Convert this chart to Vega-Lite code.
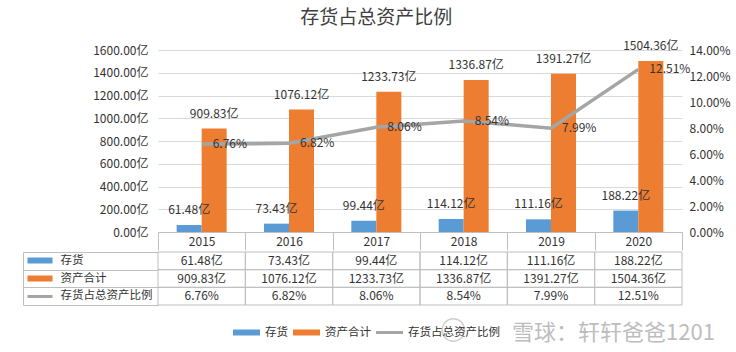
{
  "$schema": "https://vega.github.io/schema/vega-lite/v6.json",
  "padding": {"left": 22, "top": 8, "right": 0, "bottom": 0},
  "background": "white",
  "title": {"text": "存货占总资产比例", "fontSize": 19, "fontWeight": "normal", "color": "#404040", "anchor": "middle", "offset": 12, "font": "Noto Sans CJK SC"},
  "config": {"view": {"stroke": null}, "font": "Noto Sans CJK SC"},
  "data": {"values": [
    {"year": "2015", "series": "存货", "value": 61.48},
    {"year": "2015", "series": "资产合计", "value": 909.83},
    {"year": "2015", "series": "存货占总资产比例", "value": 6.76},
    {"year": "2016", "series": "存货", "value": 73.43},
    {"year": "2016", "series": "资产合计", "value": 1076.12},
    {"year": "2016", "series": "存货占总资产比例", "value": 6.82},
    {"year": "2017", "series": "存货", "value": 99.44},
    {"year": "2017", "series": "资产合计", "value": 1233.73},
    {"year": "2017", "series": "存货占总资产比例", "value": 8.06},
    {"year": "2018", "series": "存货", "value": 114.12},
    {"year": "2018", "series": "资产合计", "value": 1336.87},
    {"year": "2018", "series": "存货占总资产比例", "value": 8.54},
    {"year": "2019", "series": "存货", "value": 111.16},
    {"year": "2019", "series": "资产合计", "value": 1391.27},
    {"year": "2019", "series": "存货占总资产比例", "value": 7.99},
    {"year": "2020", "series": "存货", "value": 188.22},
    {"year": "2020", "series": "资产合计", "value": 1504.36},
    {"year": "2020", "series": "存货占总资产比例", "value": 12.51}
  ]},
  "transform": [{"calculate": "format(datum.value, '.2f') + (datum.series === '存货占总资产比例' ? '%' : '亿')", "as": "label"}],
  "spacing": 0,
  "vconcat": [
    {
      "width": 524,
      "height": 182,
      "layer": [
        {
          "transform": [{"filter": "datum.series !== '存货占总资产比例'"}],
          "encoding": {
            "x": {"field": "year", "type": "ordinal", "scale": {"paddingInner": 0, "paddingOuter": 0},
              "axis": {"title": null, "labelAngle": 0, "tickBand": "extent", "tickSize": 18, "tickColor": "#bfbfbf", "domainColor": "#bfbfbf", "labelPadding": -14, "labelFontSize": 12, "labelColor": "#333", "labelBaseline": "top"}},
            "xOffset": {"field": "series", "scale": {"domain": ["存货", "资产合计"], "paddingInner": 0, "paddingOuter": 0.7466}},
            "y": {"field": "value", "type": "quantitative", "scale": {"domain": [0, 1600]},
              "axis": {"title": null, "values": [0, 200, 400, 600, 800, 1000, 1200, 1400, 1600], "labelExpr": "format(datum.value, '.2f') + '亿'", "grid": true, "gridColor": "#d9d9d9", "domain": false, "ticks": false, "labelPadding": 10, "labelFontSize": 12, "labelColor": "#333"}}
          },
          "layer": [
            {"mark": {"type": "bar"},
             "encoding": {"color": {"field": "series", "type": "nominal",
               "scale": {"domain": ["存货", "资产合计", "存货占总资产比例"], "range": ["#5b9bd5", "#ed7d31", "#a5a5a5"]},
               "legend": {"orient": "none", "legendX": 75, "legendY": 269, "direction": "horizontal", "title": null,
                 "symbolType": "M-1,-0.222H1V0.222H-1Z", "symbolSize": 729, "symbolStrokeWidth": 0,
                 "labelFontSize": 11.5, "labelColor": "#333", "labelOffset": 5, "columnPadding": 5,
                 "encode": {"symbols": {"update": {
                   "shape": {"signal": "datum.value === '存货占总资产比例' ? 'M-1,-0.111H1V0.111H-1Z' : 'M-1,-0.222H1V0.222H-1Z'"},
                   "fill": {"signal": "datum.value === '存货' ? '#5b9bd5' : datum.value === '资产合计' ? '#ed7d31' : '#a5a5a5'"},
                   "strokeWidth": {"value": 0}}}}}}}},
            {"mark": {"type": "text", "dy": -15, "baseline": "middle", "fontSize": 12, "color": "#333"},
             "encoding": {"text": {"field": "label"}}}
          ]
        },
        {
          "transform": [{"filter": "datum.series === '存货占总资产比例'"}],
          "encoding": {
            "x": {"field": "year", "type": "ordinal"},
            "y": {"field": "value", "type": "quantitative", "scale": {"domain": [0, 14]},
              "axis": {"orient": "right", "title": null, "values": [0, 2, 4, 6, 8, 10, 12, 14], "labelExpr": "format(datum.value, '.2f') + '%'", "grid": false, "domain": false, "ticks": false, "labelPadding": 7, "labelFontSize": 12, "labelColor": "#333"}}
          },
          "layer": [
            {"mark": {"type": "line", "strokeWidth": 3.5}, "encoding": {"color": {"datum": "存货占总资产比例"}}},
            {"mark": {"type": "text", "align": "left", "dx": 11, "baseline": "middle", "fontSize": 12, "color": "#333"},
             "encoding": {"text": {"field": "label"}}}
          ]
        }
      ],
      "resolve": {"scale": {"y": "independent"}}
    },
    {
      "width": 524,
      "height": 53,
      "encoding": {
        "x": {"field": "year", "type": "ordinal", "scale": {"paddingInner": 0, "paddingOuter": 0}, "axis": null}
      },
      "layer": [
        {"mark": {"type": "rect", "filled": false, "stroke": "#bfbfbf", "strokeWidth": 1},
         "encoding": {"y": {"field": "series", "type": "nominal", "scale": {"domain": ["存货", "资产合计", "存货占总资产比例"], "paddingInner": 0, "paddingOuter": 0},
           "axis": {"orient": "left", "title": null, "offset": 106, "tickSize": 25, "domain": false, "labelAlign": "left", "labelBaseline": "middle", "labelPadding": -33, "labelFontSize": 11.5, "labelColor": "#333", "labelLimit": 0,
             "tickColor": {"condition": [{"test": "datum.value === '存货'", "value": "#5b9bd5"}, {"test": "datum.value === '资产合计'", "value": "#ed7d31"}], "value": "#a5a5a5"},
             "tickWidth": {"condition": {"test": "datum.value === '存货占总资产比例'", "value": 3}, "value": 6}}}}},
        {"mark": {"type": "text", "fontSize": 12, "color": "#333", "baseline": "middle"},
         "encoding": {"text": {"field": "label"},
           "y": {"field": "series", "type": "nominal",
             "axis": {"orient": "left", "title": null, "offset": 135, "tickSize": -135, "tickBand": "extent", "tickColor": "#bfbfbf", "domainColor": "#bfbfbf", "labels": false}}}},
        {"data": {"values": [{"wm": "雪球：轩轩爸爸1201"}]},
         "layer": [
           {"mark": {"type": "text", "align": "left", "baseline": "middle", "fontSize": 22, "color": "#bdbdbd", "dx": -39},
            "encoding": {"x": {"datum": "2019"}, "y": {"value": 81}, "text": {"field": "wm"}}},
           {"mark": {"type": "point", "shape": "circle", "filled": false, "stroke": "#bdbdbd", "strokeWidth": 1.5, "size": 500},
            "encoding": {"x": {"datum": "2019"}, "xOffset": {"value": -54}, "y": {"value": 78}}}
         ]}
      ],
      "resolve": {"axis": {"y": "independent"}}
    }
  ],
  "resolve": {"scale": {"color": "shared"}, "legend": {"color": "shared"}}
}
